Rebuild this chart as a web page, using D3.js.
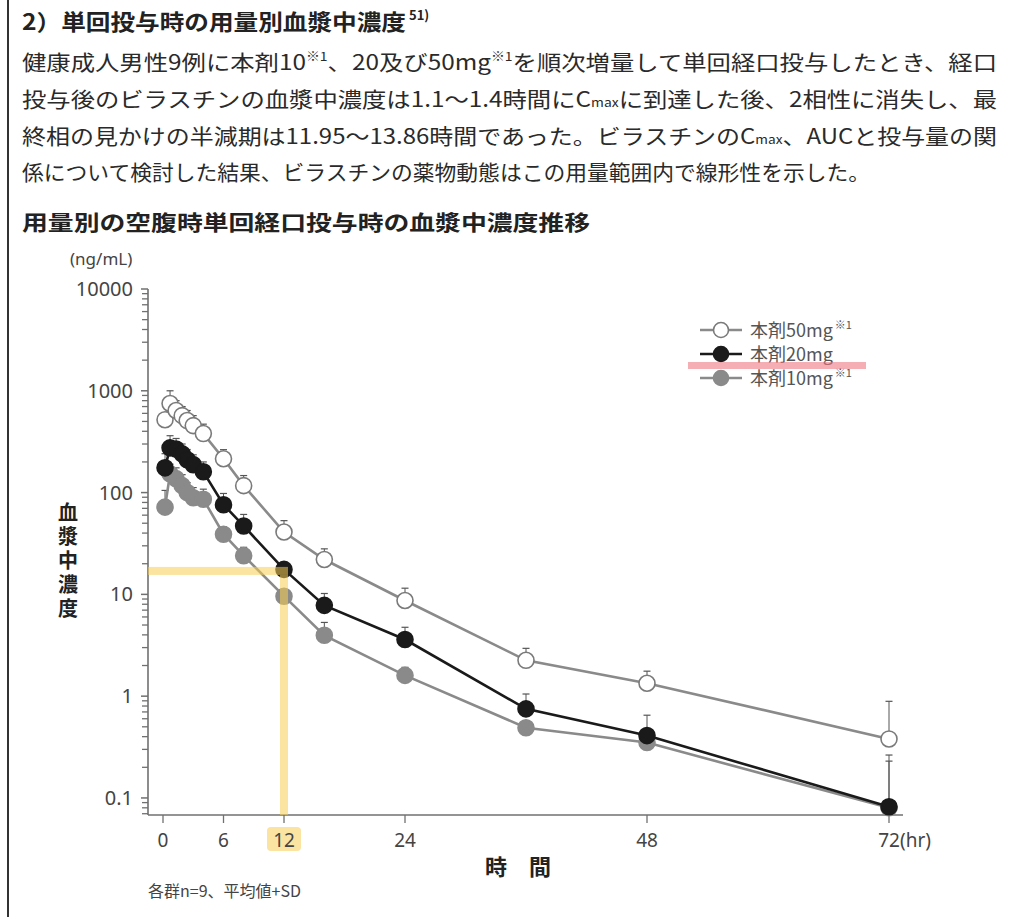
<!DOCTYPE html>
<html><head><meta charset="utf-8">
<script src="https://cdn.jsdelivr.net/npm/d3@7"></script>
<style>
html,body{margin:0;padding:0;background:#fff;}
svg{display:block;}
</style></head>
<body>
<script>
// ---- data ----
const times = [0.2, 0.7, 1.3, 1.9, 2.4, 3, 4, 6, 8, 12, 16, 24, 36, 48, 72];
const conc50 = [520, 750, 640, 570, 510, 455, 380, 215, 117, 41, 22, 8.7, 2.25, 1.34, 0.38];
const upper50 = [600, 1000, 800, 700, 640, 570, 470, 264, 147, 53, 28, 11.5, 2.95, 1.76, 0.89];
const conc20 = [175, 275, 268, 240, 210, 188, 160, 76, 47, 17.6, 7.8, 3.6, 0.75, 0.41, 0.082];
const upper20 = [241, 362, 340, 300, 265, 235, 200, 98, 61, 20.6, 10.2, 4.75, 1.05, 0.65, 0.264];
const conc10 = [72, 153, 137, 117, 100, 89, 86, 39, 24, 9.6, 3.96, 1.6, 0.49, 0.35, 0.08];
const upper10 = [105, 190, 175, 150, 125, 112, 108, 46, 29, 11, 5.3, 1.92, 0.55, 0.4, 0.23];
const xTicks = [0, 6, 12, 24, 48, 72];
const yTicks = [0.1, 1, 10, 100, 1000, 10000];
const seriesNames = ["本剤50mg", "本剤20mg", "本剤10mg"];
const seriesSup = ["※1", "", "※1"];
const highlightTime = 12;
const highlightValue = 17;

const W = 1024, H = 917;
const svg = d3.select("body").append("svg").attr("width", W).attr("height", H);
const JP = "'Noto Sans CJK JP','Noto Sans',sans-serif";
const NUM = "'Noto Sans','Noto Sans CJK JP',sans-serif";

// left border
svg.append("line").attr("x1", 8).attr("x2", 8).attr("y1", 0).attr("y2", H)
  .attr("stroke", "#333").attr("stroke-width", 2);

// title
svg.append("text").attr("x", 22).attr("y", 30)
  .attr("font-family", JP).attr("font-size", 22).attr("font-weight", 700).attr("fill", "#222")
  .attr("textLength", 384).attr("lengthAdjust", "spacingAndGlyphs")
  .text("2）単回投与時の用量別血漿中濃度");
svg.append("text").attr("x", 409).attr("y", 20)
  .attr("font-family", JP).attr("font-size", 13).attr("font-weight", 700).attr("fill", "#222")
  .text("51)");

// paragraph
function para(y, parts, len) {
  const tx = svg.append("text").attr("x", 22).attr("y", y)
    .attr("font-family", JP).attr("font-size", 21).attr("fill", "#2a2a2a");
  if (len) tx.attr("textLength", len).attr("lengthAdjust", "spacingAndGlyphs");
  parts.forEach(p => {
    const s = tx.append("tspan").text(p.t);
    if (p.sup) s.attr("font-size", 12).attr("dy", -9);
    if (p.sub) s.attr("font-size", 12).attr("dy", 0);
    if (p.back) s.attr("dy", 9);
  });
}
para(70, [{t:"健康成人男性9例に本剤10"},{t:"※1",sup:1},{t:"、20及び50mg",back:1},{t:"※1",sup:1},{t:"を順次増量して単回経口投与したとき、経口",back:1}], 975);
para(107, [{t:"投与後のビラスチンの血漿中濃度は1.1～1.4時間にC"},{t:"max",sub:1},{t:"に到達した後、2相性に消失し、最"}], 975);
para(144, [{t:"終相の見かけの半減期は11.95～13.86時間であった。ビラスチンのC"},{t:"max",sub:1},{t:"、AUCと投与量の関"}], 975);
para(180, [{t:"係について検討した結果、ビラスチンの薬物動態はこの用量範囲内で線形性を示した。"}], 848);

// subtitle
svg.append("text").attr("x", 22).attr("y", 230).attr("font-family", JP)
  .attr("font-size", 21).attr("font-weight", 700).attr("fill", "#222")
  .attr("textLength", 568).attr("lengthAdjust", "spacingAndGlyphs")
  .text("用量別の空腹時単回経口投与時の血漿中濃度推移");

// scales
const x = d3.scaleLinear().domain([0, 72]).range([163, 889]);
const y = d3.scaleLog().domain([0.068, 10000]).range([815, 289]);
const axisColor = "#707070";

// highlight "12" label background
svg.append("rect").attr("x", x(12) - 17).attr("y", 827).attr("width", 34).attr("height", 24)
  .attr("rx", 4).attr("fill", "#fbe3a2");

// y axis
const yAxisX = 148;
svg.append("line").attr("x1", yAxisX).attr("x2", yAxisX).attr("y1", y(10000)).attr("y2", 815)
  .attr("stroke", axisColor).attr("stroke-width", 1.6);
const minor = [];
for (let e = -2; e <= 3; e++) for (let m = 2; m <= 9; m++) {
  const v = m * Math.pow(10, e);
  if (v >= 0.068 && v < 10000) minor.push(v);
}
svg.selectAll(".ymin").data(minor).enter().append("line")
  .attr("x1", yAxisX - 6).attr("x2", yAxisX).attr("y1", d => y(d)).attr("y2", d => y(d))
  .attr("stroke", axisColor).attr("stroke-width", 1.3);
svg.selectAll(".ymaj").data(yTicks).enter().append("line")
  .attr("x1", yAxisX - 7).attr("x2", yAxisX).attr("y1", d => y(d)).attr("y2", d => y(d))
  .attr("stroke", axisColor).attr("stroke-width", 1.5);
svg.selectAll(".ylab").data(yTicks).enter().append("text")
  .attr("x", 133).attr("y", d => y(d) + 7).attr("text-anchor", "end")
  .attr("font-family", NUM).attr("font-size", 20).attr("fill", "#444")
  .text(d => d >= 1 ? d3.format("d")(d) : String(d));
svg.append("text").attr("x", 70).attr("y", 265).attr("font-family", NUM)
  .attr("font-size", 17).attr("fill", "#444").text("(ng/mL)");
svg.append("text").attr("x", 68).attr("y", 502)
  .attr("font-family", JP).attr("font-size", 20).attr("font-weight", 700).attr("fill", "#222")
  .style("writing-mode", "vertical-rl").attr("letter-spacing", 4).text("血漿中濃度");

// x axis
svg.append("line").attr("x1", 148).attr("x2", 903).attr("y1", 815).attr("y2", 815)
  .attr("stroke", axisColor).attr("stroke-width", 1.6);
svg.selectAll(".xt").data(xTicks).enter().append("line")
  .attr("x1", d => x(d)).attr("x2", d => x(d)).attr("y1", 815).attr("y2", 823)
  .attr("stroke", axisColor).attr("stroke-width", 1.3);
svg.selectAll(".xl").data(xTicks).enter().append("text")
  .attr("x", d => x(d)).attr("y", 847).attr("text-anchor", "middle")
  .attr("font-family", NUM).attr("font-size", 19).attr("fill", "#444").text(d => d);
svg.append("text").attr("x", x(72) + 11).attr("y", 847).attr("font-family", NUM)
  .attr("font-size", 19).attr("fill", "#444").text("(hr)");
svg.append("text").attr("x", 518).attr("y", 875).attr("text-anchor", "middle")
  .attr("font-family", JP).attr("font-size", 22).attr("font-weight", 700).attr("fill", "#222")
  .attr("xml:space", "preserve").text("時　間");
svg.append("text").attr("x", 148).attr("y", 897).attr("font-family", JP)
  .attr("font-size", 16).attr("fill", "#444").text("各群n=9、平均値+SD");

// series
const series = [
  {name: seriesNames[2], sup: seriesSup[2], c: conc10, u: upper10, line: "#8a8a8a", fill: "#8a8a8a", stroke: "#8a8a8a"},
  {name: seriesNames[1], sup: seriesSup[1], c: conc20, u: upper20, line: "#1a1a1a", fill: "#1a1a1a", stroke: "#1a1a1a"},
  {name: seriesNames[0], sup: seriesSup[0], c: conc50, u: upper50, line: "#8a8a8a", fill: "#ffffff", stroke: "#7a7a7a"}
];
const lineGen = d3.line().x(d => x(d.t)).y(d => y(d.v));
series.forEach(s => {
  const pts = times.map((tt, i) => ({t: tt, v: s.c[i], u: s.u[i]}));
  const g = svg.append("g");
  g.selectAll(".eb").data(pts).enter().append("line")
    .attr("x1", d => x(d.t)).attr("x2", d => x(d.t)).attr("y1", d => y(d.v)).attr("y2", d => y(d.u))
    .attr("stroke", "#555").attr("stroke-width", 1);
  g.selectAll(".cap").data(pts).enter().append("line")
    .attr("x1", d => x(d.t) - 3.5).attr("x2", d => x(d.t) + 3.5).attr("y1", d => y(d.u)).attr("y2", d => y(d.u))
    .attr("stroke", "#555").attr("stroke-width", 1.2);
  g.append("path").datum(pts).attr("d", lineGen).attr("fill", "none")
    .attr("stroke", s.line).attr("stroke-width", 2.6);
  g.selectAll(".pt").data(pts).enter().append("circle")
    .attr("cx", d => x(d.t)).attr("cy", d => y(d.v)).attr("r", 8)
    .attr("fill", s.fill).attr("stroke", s.stroke).attr("stroke-width", 1.6);
});

// highlight guide lines
const hl = "rgba(246,205,80,0.55)";
svg.append("rect").attr("x", 148).attr("y", y(highlightValue) - 4)
  .attr("width", x(highlightTime) - 148 + 4).attr("height", 8).attr("fill", hl);
svg.append("rect").attr("x", x(highlightTime) - 4).attr("y", y(highlightValue) + 4)
  .attr("width", 8).attr("height", 815 - y(highlightValue) - 4).attr("fill", hl);

// legend
const legendOrder = [series[2], series[1], series[0]];
legendOrder.forEach((s, i) => {
  const ly = 330 + i * 24;
  svg.append("line").attr("x1", 700).attr("x2", 742).attr("y1", ly).attr("y2", ly)
    .attr("stroke", s.line).attr("stroke-width", 2.6);
  svg.append("circle").attr("cx", 721).attr("cy", ly).attr("r", 7.5)
    .attr("fill", s.fill).attr("stroke", s.stroke).attr("stroke-width", 1.6);
  const tx = svg.append("text").attr("x", 750).attr("y", ly + 7)
    .attr("font-family", JP).attr("font-size", 18).attr("fill", "#555");
  tx.append("tspan").text(s.name);
  if (s.sup) tx.append("tspan").attr("font-size", 11).attr("dx", 2).attr("dy", -8).text(s.sup);
});
svg.append("rect").attr("x", 688).attr("y", 362).attr("width", 178).attr("height", 7)
  .attr("fill", "rgba(236,120,130,0.6)");
</script>
</body></html>
